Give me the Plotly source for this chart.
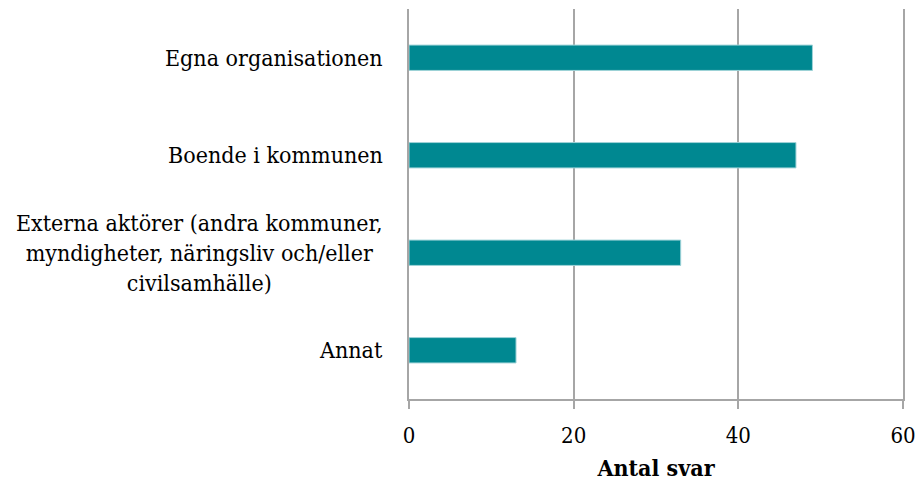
import plotly.graph_objects as go

categories = ["Egna organisationen", "Boende i kommunen",
              "Externa aktörer (andra kommuner,<br>myndigheter, näringsliv och/eller<br>civilsamhälle)",
              "Annat"]
values = [49, 47, 33, 13]
tick_vals = [0, 20, 40, 60]

font_family = "DejaVu Serif Condensed, DejaVu Serif, serif"
grid = "#a6a6a6"

fig = go.Figure(go.Bar(
    x=values, y=categories, orientation="h",
    marker=dict(color="#008891", line=dict(color="#9fd3d8", width=1)),
))
fig.update_layout(
    width=919, height=481,
    margin=dict(l=409, r=16, t=9, b=82, autoexpand=False),
    paper_bgcolor="white", plot_bgcolor="white",
    bargap=0.74,
    showlegend=False,
    font=dict(family=font_family, size=22, color="black"),
)
fig.update_xaxes(
    range=[0, 60], tickvals=tick_vals, automargin=False,
    showgrid=True, gridcolor=grid, gridwidth=1.5,
    showline=True, linecolor=grid, linewidth=1.5,
    ticks="outside", ticklen=8, tickcolor=grid, tickwidth=1.5,
    zeroline=False, ticklabelstandoff=8,
    tickfont=dict(size=22),
    title=dict(text="<b>Antal svar</b>", font=dict(size=23), standoff=13),
)
fig.update_yaxes(
    autorange="reversed", automargin=False,
    showline=True, mirror=True, linecolor=grid, linewidth=1.5,
    showgrid=False, ticks="", showticklabels=False,
)
for cat in categories:
    fig.add_annotation(
        xref="paper", yref="y", x=0, y=cat, xanchor="right", yanchor="middle",
        xshift=-25, text=cat, showarrow=False, align="center",
        font=dict(size=23, family=font_family, color="black"), borderpad=0,
    )
fig.write_html("out.html", config={"displayModeBar": False},
               post_script="document.body.style.margin='0';")
